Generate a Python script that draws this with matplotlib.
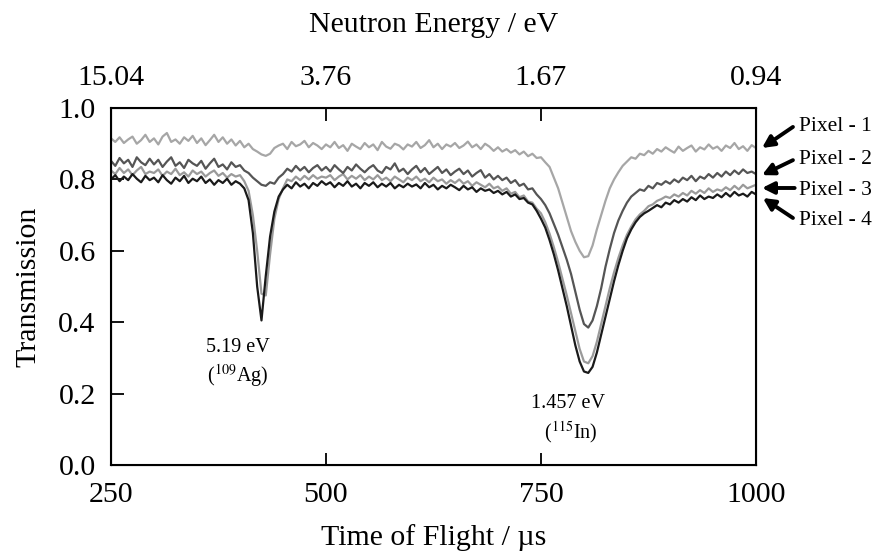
import numpy as np
import matplotlib
matplotlib.use("Agg")
import matplotlib.pyplot as plt

plt.rcParams['font.family'] = ['Liberation Serif', 'DejaVu Serif']
plt.rcParams['mathtext.fontset'] = 'stix'

# time of flight sampling (us), one reading every 5 us
tof = np.arange(250, 1001, 5)

# transmission, rows of 10 points (50 us each)
pixel_1 = [
    0.915, 0.905, 0.918, 0.902, 0.912, 0.920, 0.900, 0.910, 0.925, 0.905,
    0.915, 0.898, 0.920, 0.930, 0.905, 0.912, 0.900, 0.918, 0.908, 0.922,
    0.902, 0.915, 0.896, 0.910, 0.925, 0.905, 0.918, 0.900, 0.912, 0.895,
    0.908, 0.890, 0.900, 0.885, 0.878, 0.870, 0.866, 0.872, 0.888, 0.895,
    0.900, 0.885, 0.905, 0.893, 0.898, 0.908, 0.890, 0.902, 0.895, 0.885,
    0.898, 0.890, 0.905, 0.888, 0.896, 0.880, 0.900, 0.892, 0.885, 0.902,
    0.890, 0.898, 0.882, 0.905, 0.892, 0.886, 0.900, 0.895, 0.884, 0.898,
    0.892, 0.905, 0.888, 0.896, 0.910, 0.890, 0.900, 0.885, 0.898, 0.892,
    0.902, 0.888, 0.895, 0.906, 0.890, 0.898, 0.885, 0.900, 0.892, 0.880,
    0.890, 0.878, 0.885, 0.875, 0.882, 0.870, 0.878, 0.865, 0.872, 0.860,
    0.862, 0.848, 0.835, 0.805, 0.775, 0.735, 0.695, 0.655, 0.625, 0.600,
    0.582, 0.585, 0.615, 0.660, 0.700, 0.740, 0.775, 0.800, 0.820, 0.838,
    0.850, 0.862, 0.858, 0.872, 0.868, 0.880, 0.872, 0.885, 0.878, 0.890,
    0.882, 0.875, 0.892, 0.880, 0.888, 0.895, 0.878, 0.890, 0.884, 0.898,
    0.886, 0.892, 0.880, 0.895, 0.888, 0.902, 0.885, 0.893, 0.880, 0.896,
    0.888,
]

pixel_2 = [
    0.852, 0.838, 0.860, 0.845, 0.855, 0.835, 0.862, 0.848, 0.840, 0.858,
    0.842, 0.855, 0.835, 0.850, 0.862, 0.838, 0.848, 0.832, 0.855, 0.845,
    0.838, 0.852, 0.830, 0.845, 0.858, 0.835, 0.842, 0.828, 0.848, 0.835,
    0.840, 0.825, 0.818, 0.805, 0.795, 0.785, 0.782, 0.792, 0.788, 0.805,
    0.815, 0.830, 0.822, 0.838, 0.825, 0.835, 0.820, 0.832, 0.840, 0.825,
    0.835, 0.822, 0.840, 0.828, 0.818, 0.835, 0.825, 0.842, 0.830, 0.820,
    0.832, 0.840, 0.825, 0.818, 0.835, 0.828, 0.845, 0.822, 0.830, 0.815,
    0.828, 0.838, 0.820, 0.832, 0.815, 0.825, 0.835, 0.818, 0.828, 0.812,
    0.822, 0.830, 0.815, 0.825, 0.808, 0.818, 0.826, 0.805, 0.815, 0.800,
    0.810, 0.798, 0.805, 0.790, 0.798, 0.782, 0.788, 0.772, 0.775, 0.758,
    0.745, 0.728, 0.705, 0.675, 0.645, 0.610, 0.575, 0.535, 0.485, 0.435,
    0.395, 0.385, 0.405, 0.445, 0.495, 0.555, 0.605, 0.650, 0.685, 0.712,
    0.735, 0.752, 0.762, 0.772, 0.768, 0.782, 0.775, 0.790, 0.785, 0.795,
    0.788, 0.800, 0.792, 0.805, 0.798, 0.810, 0.795, 0.808, 0.802, 0.815,
    0.805, 0.818, 0.808, 0.822, 0.812, 0.825, 0.815, 0.828, 0.818, 0.822,
    0.815,
]

pixel_3 = [
    0.825, 0.815, 0.832, 0.818, 0.828, 0.812, 0.825, 0.835, 0.815, 0.822,
    0.818, 0.828, 0.810, 0.822, 0.815, 0.830, 0.812, 0.820, 0.808, 0.825,
    0.815, 0.822, 0.808, 0.818, 0.825, 0.810, 0.818, 0.805, 0.815, 0.808,
    0.812, 0.795, 0.768, 0.700, 0.600, 0.480, 0.475, 0.590, 0.690, 0.745,
    0.775, 0.800, 0.795, 0.808, 0.798, 0.810, 0.800, 0.812, 0.802, 0.808,
    0.805, 0.812, 0.798, 0.808, 0.815, 0.800, 0.810, 0.802, 0.812, 0.798,
    0.808, 0.800, 0.812, 0.798, 0.805, 0.795, 0.808, 0.800, 0.792, 0.805,
    0.798, 0.808, 0.795, 0.802, 0.792, 0.805, 0.795, 0.800, 0.788, 0.798,
    0.790, 0.800, 0.788, 0.795, 0.782, 0.792, 0.785, 0.778, 0.788, 0.775,
    0.780, 0.768, 0.775, 0.760, 0.765, 0.750, 0.755, 0.738, 0.735, 0.718,
    0.705, 0.680, 0.648, 0.610, 0.568, 0.522, 0.475, 0.425, 0.375, 0.325,
    0.290, 0.285, 0.305, 0.345, 0.395, 0.445, 0.495, 0.540, 0.580, 0.615,
    0.645, 0.668, 0.688, 0.702, 0.712, 0.725, 0.730, 0.740, 0.745, 0.752,
    0.748, 0.758, 0.752, 0.762, 0.755, 0.768, 0.760, 0.770, 0.762, 0.775,
    0.765, 0.772, 0.768, 0.778, 0.770, 0.782, 0.772, 0.785, 0.775, 0.780,
    0.785,
]

pixel_4 = [
    0.800, 0.812, 0.795, 0.808, 0.798, 0.815, 0.802, 0.792, 0.810, 0.798,
    0.805, 0.792, 0.812, 0.798, 0.788, 0.805, 0.795, 0.810, 0.790, 0.802,
    0.795, 0.808, 0.790, 0.800, 0.785, 0.798, 0.790, 0.802, 0.785, 0.795,
    0.788, 0.775, 0.742, 0.650, 0.500, 0.405, 0.530, 0.640, 0.710, 0.752,
    0.772, 0.785, 0.775, 0.792, 0.780, 0.788, 0.775, 0.790, 0.782, 0.795,
    0.785, 0.792, 0.778, 0.790, 0.782, 0.795, 0.780, 0.788, 0.775, 0.790,
    0.782, 0.792, 0.778, 0.788, 0.780, 0.790, 0.775, 0.785, 0.778, 0.788,
    0.780, 0.786, 0.775, 0.790, 0.778, 0.785, 0.772, 0.782, 0.775, 0.785,
    0.778, 0.770, 0.782, 0.772, 0.778, 0.765, 0.775, 0.768, 0.772, 0.762,
    0.768, 0.758, 0.765, 0.752, 0.758, 0.745, 0.748, 0.735, 0.730, 0.712,
    0.690, 0.665, 0.630, 0.590, 0.545, 0.495, 0.445, 0.390, 0.335, 0.290,
    0.262, 0.258, 0.275, 0.315, 0.365, 0.415, 0.465, 0.515, 0.560, 0.600,
    0.635, 0.660, 0.680, 0.695, 0.705, 0.712, 0.720, 0.728, 0.722, 0.735,
    0.730, 0.742, 0.735, 0.745, 0.738, 0.750, 0.742, 0.755, 0.745, 0.752,
    0.748, 0.758, 0.750, 0.762, 0.752, 0.765, 0.755, 0.760, 0.752, 0.765,
    0.758,
]

series = [pixel_1, pixel_2, pixel_3, pixel_4]
series_names = ['Pixel - 1', 'Pixel - 2', 'Pixel - 3', 'Pixel - 4']
series_colors = ['#a6a6a6', '#555555', '#9a9a9a', '#1a1a1a']

bottom_ticks = [250, 500, 750, 1000]
energy_labels = ['15.04', '3.76', '1.67', '0.94']
y_ticks = [0.0, 0.2, 0.4, 0.6, 0.8, 1.0]

fig = plt.figure(figsize=(8.78, 5.6), dpi=100)
ax = fig.add_axes([0.1264, 0.1696, 0.7346, 0.6375])

# draw light traces first so darker ones sit on top
for idx in [0, 2, 1, 3]:
    ax.plot(tof, series[idx], color=series_colors[idx], lw=1.6)

ax.set_xlim(250, 1000)
ax.set_ylim(0, 1.0)
ax.set_xticks(bottom_ticks)
ax.set_yticks(y_ticks)
ax.set_yticklabels(['%.1f' % v for v in y_ticks])
ax.tick_params(direction='in', length=9, width=1.3, labelsize=21.5, pad=11)
ax.tick_params(axis='x', pad=12)
for sp in ax.spines.values():
    sp.set_linewidth(1.5)

ax.set_xlabel('Time of Flight / µs', fontsize=21.5, labelpad=12)
ax.set_ylabel('Transmission', fontsize=21.5, labelpad=12)

ax2 = ax.twiny()
ax2.set_xlim(ax.get_xlim())
ax2.set_xticks(bottom_ticks)
ax2.set_xticklabels(energy_labels)
ax2.tick_params(direction='in', length=9, width=1.3, labelsize=21.5, pad=12)
ax2.set_xlabel('Neutron Energy / eV', fontsize=21.5, labelpad=24)

# resonance labels
ax.text(397, 0.328, '5.19 eV', ha='center', va='center', fontsize=14.5)
ax.text(397, 0.250, '($^{109}$Ag)', ha='center', va='center', fontsize=14.5)
ax.text(782, 0.171, '1.457 eV', ha='center', va='center', fontsize=14.5)
ax.text(785, 0.090, '($^{115}$In)', ha='center', va='center', fontsize=14.5)

# pixel labels with arrows at the right edge
arrow_tips = [(1007, 0.888), (1007, 0.812), (1007, 0.776), (1008, 0.748)]
arrow_tails = [(1043, 0.947), (1043, 0.854), (1045, 0.776), (1043, 0.692)]
label_y = [0.947, 0.857, 0.770, 0.686]
for name, tip, tail, ly in zip(series_names, arrow_tips, arrow_tails, label_y):
    ax.annotate('', xy=tip, xytext=tail, annotation_clip=False,
                arrowprops=dict(arrowstyle='-|>,head_length=0.7,head_width=0.35',
                                color='black', lw=2.8, shrinkA=0, shrinkB=0))
    ax.text(1050, ly, name, ha='left', va='center', fontsize=15.5, clip_on=False)

fig.savefig('out.png', dpi=100)
